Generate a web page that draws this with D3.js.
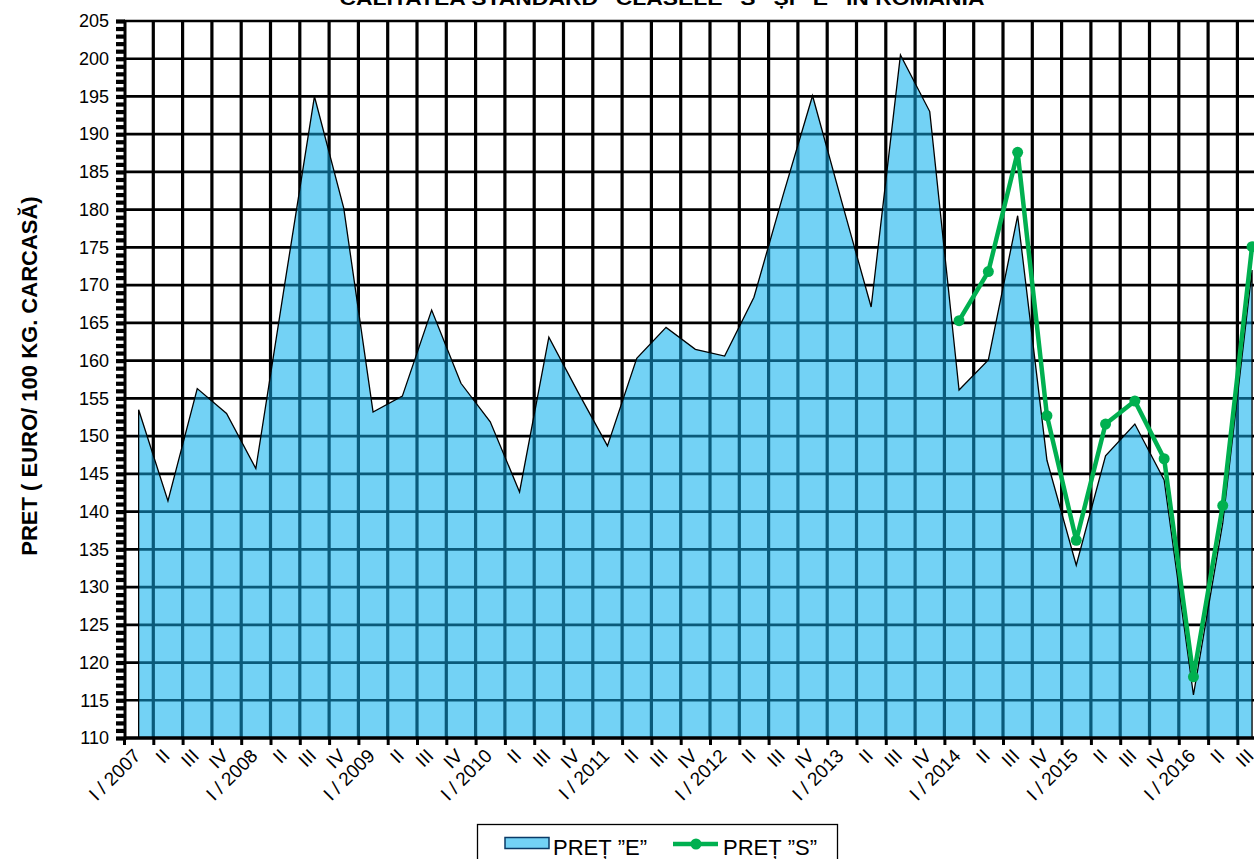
<!DOCTYPE html>
<html>
<head>
<meta charset="utf-8">
<script src="https://cdn.jsdelivr.net/npm/d3@7/dist/d3.min.js"></script>
<style>
html,body{margin:0;padding:0;background:#fff;overflow:hidden;}
text{font-family:"Liberation Sans",Arial,sans-serif;}
</style>
</head>
<body>
<svg id="chart" width="1254" height="859"></svg>
<script>
// ---- DATA ----
const quarterLabels = [
  "I / 2007","II","III","IV",
  "I / 2008","II","III","IV",
  "I / 2009","II","III","IV",
  "I / 2010","II","III","IV",
  "I / 2011","II","III","IV",
  "I / 2012","II","III","IV",
  "I / 2013","II","III","IV",
  "I / 2014","II","III","IV",
  "I / 2015","II","III","IV",
  "I / 2016","II","III"
];
const priceE = [
  153.5, 141.4, 156.3, 153.0,
  145.7, 170.5, 195.0, 180.2,
  153.2, 155.3, 166.7, 157.0,
  151.9, 142.6, 163.1, 155.8,
  148.7, 160.3, 164.4, 161.5,
  160.6, 168.4, 182.0, 195.1,
  181.0, 167.1, 200.5, 193.0,
  156.1, 160.1, 179.2, 146.8,
  132.9, 147.4, 151.6, 144.2,
  115.7, 138.5, 172.0
];
const priceS = [
  null, null, null, null,
  null, null, null, null,
  null, null, null, null,
  null, null, null, null,
  null, null, null, null,
  null, null, null, null,
  null, null, null, null,
  165.3, 171.8, 187.6, 152.7,
  136.2, 151.6, 154.65, 147.0,
  118.1, 140.8, 175.1
];
const yTicks = [110,115,120,125,130,135,140,145,150,155,160,165,170,175,180,185,190,195,200,205];
const titleText = "CALITATEA STANDARD \u201DCLASELE \u201DS\u201D \u0218I \u201DE\u201D \u00CEN ROM\u00C2NIA";
const yTitle = "PRET ( EURO/ 100 KG. CARCAS\u0102)";
const legendE = "PRE\u021A \u201DE\u201D";
const legendS = "PRE\u021A \u201DS\u201D";

(function () {
// ---- LAYOUT ----
const svg = d3.select("#chart");
const n = quarterLabels.length;
const pLeft = 124, bw = 29.3, pTop = 21, pBottom = 738;
const idx = d3.range(n);
const x = d3.scaleBand().domain(idx).range([pLeft, pLeft + n * bw]).padding(0);
const xb = d3.scaleLinear().domain([0, n]).range([pLeft, pLeft + n * bw]);
const y = d3.scaleLinear().domain([110, 205]).range([pBottom, pTop]);
const cx = i => x(i) + x.bandwidth() / 2;

const fillBlue = "#73D2F5";
const gridOnArea = "#0A5A7A";
const green = "#00B050";

svg.append("rect").attr("width",1254).attr("height",859).attr("fill","#fff");

function drawGrid(g, color) {
  g.selectAll("line.h").data(yTicks.filter(v => v > 110)).join("line")
    .attr("class","h")
    .attr("x1", pLeft).attr("x2", xb(n))
    .attr("y1", d => y(d)).attr("y2", d => y(d))
    .attr("stroke", color).attr("stroke-width", 2.7);
  g.selectAll("line.v").data(d3.range(1, n + 1)).join("line")
    .attr("class","v")
    .attr("x1", d => xb(d)).attr("x2", d => xb(d))
    .attr("y1", pTop).attr("y2", pBottom)
    .attr("stroke", color).attr("stroke-width", 3.2);
}

drawGrid(svg.append("g"), "#000");

const area = d3.area()
  .x(i => cx(i))
  .y0(y(110))
  .y1(i => y(priceE[i]));
const areaPath = area(idx);

svg.append("defs").append("clipPath").attr("id","areaClip")
  .append("path").attr("d", areaPath);

svg.append("path").attr("d", areaPath).attr("fill", fillBlue);
drawGrid(svg.append("g").attr("clip-path","url(#areaClip)"), gridOnArea);
svg.append("path").attr("d", areaPath).attr("fill","none")
  .attr("stroke","#000").attr("stroke-width",1.3).attr("stroke-linejoin","miter");

// ---- Y AXIS ----
const yMinor = svg.append("g").attr("transform", `translate(${pLeft+1},0)`)
  .call(d3.axisLeft(y).tickValues(d3.range(110, 206, 1)).tickSize(9).tickFormat(""));
yMinor.select(".domain").remove();
yMinor.selectAll(".tick line").attr("stroke","#000").attr("stroke-width",4.2);

const yLab = svg.append("g").attr("transform", `translate(${pLeft-15},0)`)
  .call(d3.axisLeft(y).tickValues(yTicks).tickSize(0).tickPadding(0));
yLab.select(".domain").remove();
yLab.selectAll("text").attr("font-size", 18).attr("fill","#000")
  .attr("font-family","Liberation Sans, Arial, sans-serif");

svg.append("line").attr("x1", pLeft+1).attr("x2", pLeft+1).attr("y1", pTop-1).attr("y2", pBottom+2)
  .attr("stroke","#000").attr("stroke-width",3);

// ---- X AXIS ----
const xTicks = svg.append("g").attr("transform", `translate(0,${pBottom})`)
  .call(d3.axisBottom(xb).tickValues(d3.range(0, n + 1)).tickSize(7).tickFormat(""));
xTicks.select(".domain").remove();
xTicks.selectAll(".tick line").attr("stroke","#000").attr("stroke-width",3);
svg.append("line").attr("x1", pLeft).attr("x2", xb(n)).attr("y1", pBottom).attr("y2", pBottom)
  .attr("stroke","#000").attr("stroke-width",3.5);

const xLab = svg.append("g").attr("transform", `translate(0,${pBottom})`)
  .call(d3.axisBottom(x).tickSize(0).tickFormat(i => quarterLabels[i]));
xLab.select(".domain").remove();
xLab.selectAll("text")
  .attr("font-size", 19).attr("fill","#000")
  .attr("font-family","Liberation Sans, Arial, sans-serif")
  .attr("text-anchor","end")
  .attr("dy", null).attr("y", null)
  .attr("transform","translate(3,19) rotate(-45)");

// ---- GREEN LINE ----
const line = d3.line()
  .defined(i => priceS[i] != null)
  .x(i => cx(i)).y(i => y(priceS[i]));
svg.append("path").attr("d", line(idx)).attr("fill","none")
  .attr("stroke", green).attr("stroke-width", 4.5).attr("stroke-linejoin","round");
svg.selectAll("circle.s").data(idx.filter(i => priceS[i] != null)).join("circle")
  .attr("class","s")
  .attr("cx", i => cx(i)).attr("cy", i => y(priceS[i])).attr("r", 5.5)
  .attr("fill", green);

// ---- TITLES ----
svg.append("text").attr("x", 662).attr("y", 5).attr("text-anchor","middle")
  .attr("font-size", 18).attr("font-weight","bold")
  .attr("textLength", 645).attr("lengthAdjust","spacingAndGlyphs")
  .text(titleText);

svg.append("text").attr("transform","translate(37,376) rotate(-90)")
  .attr("text-anchor","middle").attr("font-size", 22).attr("font-weight","bold")
  .text(yTitle);

// ---- LEGEND ----
const lg = svg.append("g");
lg.append("rect").attr("x", 477.5).attr("y", 824.5).attr("width", 360).attr("height", 50)
  .attr("fill","#fff").attr("stroke","#000").attr("stroke-width",1.3);
lg.append("rect").attr("x", 505).attr("y", 837.5).attr("width", 44).attr("height", 11)
  .attr("fill", fillBlue).attr("stroke","#0B3A66").attr("stroke-width",1.5);
lg.append("text").attr("x", 553).attr("y", 855).attr("font-size", 22).text(legendE);
lg.append("line").attr("x1", 673).attr("x2", 718).attr("y1", 844).attr("y2", 844)
  .attr("stroke", green).attr("stroke-width", 4.5);
lg.append("circle").attr("cx", 696).attr("cy", 844).attr("r", 5.5).attr("fill", green);
lg.append("text").attr("x", 723).attr("y", 855).attr("font-size", 22).text(legendS);
})();
</script>
</body>
</html>
